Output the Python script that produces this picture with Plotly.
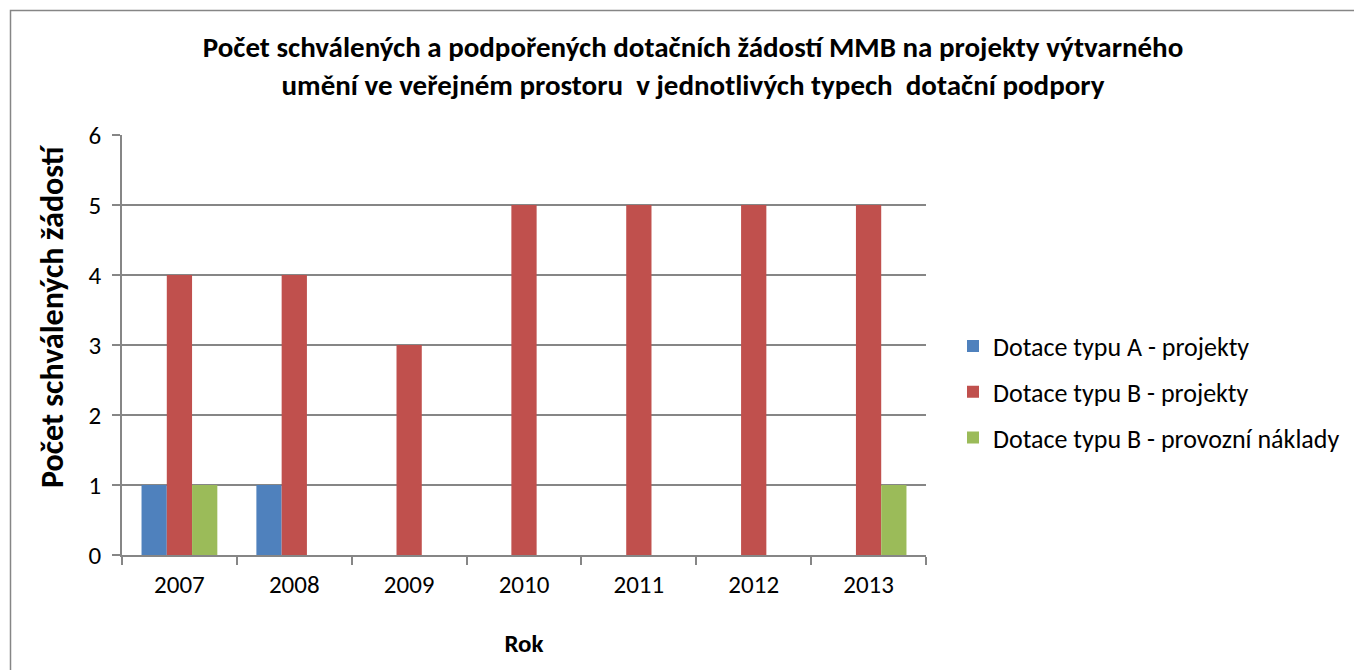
import plotly.graph_objects as go

years = ["2007", "2008", "2009", "2010", "2011", "2012", "2013"]
series_names = ["Dotace typu A - projekty", "Dotace typu B - projekty", "Dotace typu B - provozní náklady"]
typ_a_projekty = [1, 1, None, None, None, None, None]
typ_b_projekty = [4, 4, 3, 5, 5, 5, 5]
typ_b_provozni = [1, None, None, None, None, None, 1]
colors = ["#4F81BD", "#C0504D", "#9BBB59"]

FONT = "Carlito, Calibri, Lato, sans-serif"
W, H = 1362, 670
OFF = 8  # page body margin
L, T = 122 - OFF, 135 - OFF
pw, ph = 804, 420
R, B = W - L - pw, H - T - ph

def px(xs):
    return (xs - OFF - L) / pw

def py(ys):
    return (T + ph - (ys - OFF)) / ph

fig = go.Figure()
for i, (name, vals) in enumerate(zip(series_names, [typ_a_projekty, typ_b_projekty, typ_b_provozni])):
    fig.add_trace(go.Bar(x=years, y=vals, name=name, marker=dict(color=colors[i], line=dict(width=0)),
                         legendgroup=f"g{i}"))

fig.update_layout(
    width=W, height=H,
    margin=dict(l=L, r=R, t=T, b=B),
    paper_bgcolor="white", plot_bgcolor="white",
    barmode="group", bargap=0.34, bargroupgap=0,
    font=dict(family=FONT, size=25, color="black"),
    title=dict(
        text="Počet schválených a podpořených dotačních žádostí MMB na projekty výtvarného<br>umění ve veřejném prostoru  v jednotlivých typech  dotační podpory",
        x=(693 - OFF) / W, xanchor="center", y=1 - (57 - OFF) / H, yanchor="middle",
        font=dict(family=FONT, size=29, color="black", weight="bold"),
    ),
    showlegend=True,
    legend=dict(x=px(953), xanchor="left", y=py(392), yanchor="middle",
                font=dict(family=FONT, size=26), tracegroupgap=9, traceorder="grouped",
                itemwidth=30, bgcolor="rgba(0,0,0,0)"),
    xaxis=dict(
        showline=True, linecolor="#868686", linewidth=1.5,
        ticks="outside", ticklen=8, tickcolor="#868686", tickwidth=1.5,
        tickson="boundaries", showgrid=False, ticklabelstandoff=6,
        title=dict(text="Rok", font=dict(family=FONT, size=25, weight="bold"), standoff=36),
        tickfont=dict(family=FONT, size=25),
    ),
    yaxis=dict(
        range=[0, 6], dtick=1, showline=True, linecolor="#868686", linewidth=1.5,
        ticks="outside", ticklen=8, tickcolor="#868686", tickwidth=1.5,
        showgrid=True, gridcolor="#868686", gridwidth=1.5, zeroline=False,
        ticklabelstandoff=6,
        tickfont=dict(family=FONT, size=25),
    ),
    annotations=[dict(
        text="Počet schválených žádostí", textangle=-90, showarrow=False,
        xref="paper", yref="paper", x=px(52), y=py(316), xanchor="center", yanchor="middle",
        font=dict(family=FONT, size=32, weight="bold", color="black"),
    )],
)

# outer chart border
fig.add_shape(type="rect", xref="paper", yref="paper",
              x0=px(10.5), x1=px(W + 40),
              y0=py(H + 40), y1=py(10.5),
              line=dict(color="#868686", width=1.5), fillcolor="rgba(0,0,0,0)", layer="below")

fig.write_html("out.html")
